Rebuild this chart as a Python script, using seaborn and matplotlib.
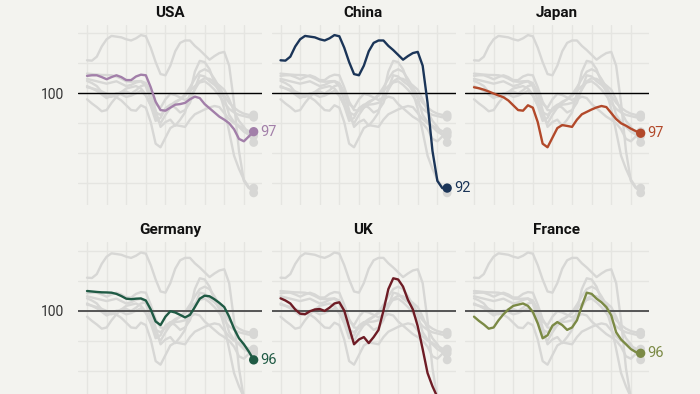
import pandas as pd
import seaborn as sns
import matplotlib.pyplot as plt

# x = semanas (índice) (índice, 100 = base)
weeks = list(range(35))

usa = [101.45, 101.5, 101.5, 101.35, 101.17, 101.35, 101.5, 101.35, 101.1, 101.1,
       101.4, 101.55, 101.5, 100.5, 99.3, 98.6, 98.55, 98.8, 99.05, 99.1,
       99.2, 99.5, 99.72, 99.6, 99.1, 98.75, 98.4, 98.05, 97.8, 97.5,
       97.0, 96.2, 96.0, 96.4, 96.8]
china = [102.75, 102.72, 103.05, 103.9, 104.5, 104.78, 104.72, 104.66, 104.5, 104.4,
         104.58, 104.85, 104.75, 103.8, 102.6, 101.6, 101.5, 102.3, 103.5, 104.2,
         104.4, 104.4, 103.95, 103.6, 103.2, 102.8, 103.1, 103.35, 103.45, 102.3,
         99.2, 95.2, 92.7, 92.1, 92.1]
japan = [100.5, 100.42, 100.3, 100.15, 99.98, 99.82, 99.67, 99.4, 99.0, 98.6,
         98.55, 99.0, 98.8, 97.6, 95.8, 95.5, 96.3, 97.1, 97.35, 97.28,
         97.2, 97.8, 98.25, 98.45, 98.65, 98.82, 98.94, 98.85, 98.35, 97.85,
         97.5, 97.3, 97.05, 96.85, 96.67]
germany = [101.64, 101.6, 101.56, 101.53, 101.52, 101.5, 101.4, 101.22, 101.0, 100.96,
           101.0, 101.02, 100.85, 100.1, 99.1, 98.8, 99.5, 99.95, 99.85, 99.65,
           99.44, 99.65, 100.3, 101.0, 101.25, 101.2, 100.95, 100.65, 100.3, 99.5,
           98.5, 97.7, 97.2, 96.6, 95.9]
uk = [101.03, 100.85, 100.6, 100.1, 99.75, 99.7, 99.95, 100.1, 100.14, 99.98,
      100.25, 100.6, 100.7, 100.0, 98.6, 97.2, 97.6, 97.8, 97.3, 97.8,
      98.4, 100.0, 101.8, 102.7, 102.6, 102.0, 100.9, 100.1, 98.7, 96.8,
      94.8, 93.7, 92.8, 92.2, 91.7]
france = [99.5, 99.15, 98.85, 98.5, 98.6, 99.2, 99.7, 100.1, 100.4, 100.5,
          100.6, 100.4, 99.9, 98.95, 97.7, 97.95, 98.75, 99.05, 98.8, 98.4,
          98.6, 99.2, 100.4, 101.5, 101.4, 101.0, 100.7, 100.3, 99.6, 98.2,
          97.6, 97.2, 96.8, 96.55, 96.45]
# países que só aparecem em cinza (painéis fora do recorte)
italy = [101.2, 101.1, 101.0, 100.9, 100.8, 100.9, 101.0, 100.8, 100.6, 100.7,
         100.9, 101.0, 100.6, 99.4, 98.0, 97.5, 98.2, 98.8, 99.2, 99.5,
         99.9, 100.5, 101.2, 101.8, 102.0, 101.8, 101.2, 100.5, 99.8, 99.2,
         98.8, 98.5, 98.3, 98.2, 98.2]
canada = [100.6, 100.4, 100.2, 99.9, 99.6, 99.8, 100.0, 99.9, 99.7, 99.8,
          100.0, 100.2, 99.8, 99.0, 98.4, 98.2, 98.6, 99.0, 99.3, 99.5,
          99.8, 100.2, 100.6, 100.9, 101.0, 100.7, 100.3, 99.8, 99.2, 98.7,
          98.4, 98.2, 98.1, 98.0, 98.0]

panels = ['USA', 'China', 'Japan', 'Germany', 'UK', 'France']
# rótulo final (o do Reino Unido fica abaixo do recorte)
end_labels = ['97', '92', '97', '96', None, '96']
colors = ['#a27fa9', '#1b3558', '#b2492a', '#1f5a44', '#6e1c25', '#7b8a45']

series = {'USA': usa, 'China': china, 'Japan': japan, 'Germany': germany,
          'UK': uk, 'France': france, 'Italy': italy, 'Canada': canada}

df = pd.concat([pd.DataFrame({'country': k, 'week': weeks, 'value': v})
                for k, v in series.items()], ignore_index=True)

bg = '#f3f3ef'
grey = '#d7d7d5'
sns.set_style('white')
plt.rcParams['font.family'] = ['Roboto', 'DejaVu Sans']

W, H = 700, 394
fig = plt.figure(figsize=(7, 3.94), dpi=100)
fig.patch.set_facecolor(bg)

lefts = [78, 271.5, 465]
tops = [25, 242.4]
aw, ah = 184, 180
yt = [92.5, 95, 97.5, 100, 102.5, 105]

for i, name in enumerate(panels):
    row, col = divmod(i, 3)
    ax = fig.add_axes([lefts[col] / W, 1 - (tops[row] + ah) / H, aw / W, ah / H])
    ax.patch.set_visible(False)
    ax.set_zorder(10 - col)  # rótulos finais por cima do painel vizinho

    # linhas cinza dos outros países
    others = df[df['country'] != name]
    sns.lineplot(data=others, x='week', y='value', units='country', estimator=None,
                 color=grey, lw=1.7, ax=ax, legend=False, zorder=2)
    last = others[others['week'] == weeks[-1]]
    sns.scatterplot(data=last, x='week', y='value', color=grey, s=40,
                    edgecolor='none', ax=ax, legend=False, zorder=2)

    # linha de base 100
    ax.axhline(100, color='black' if row == 0 else '#555555',
               lw=1.0 if row == 0 else 1.4, zorder=3)

    # país em destaque
    mine = df[df['country'] == name]
    sns.lineplot(data=mine, x='week', y='value', color=colors[i], lw=1.7,
                 ax=ax, legend=False, zorder=4)
    end = mine[mine['week'] == weeks[-1]]
    sns.scatterplot(data=end, x='week', y='value', color=colors[i], s=45,
                    edgecolor='none', ax=ax, legend=False, zorder=5)
    if end_labels[i]:
        ax.annotate(end_labels[i], (weeks[-1], end['value'].iloc[0]),
                    xytext=(5, 0), textcoords='offset points', va='center',
                    ha='left', fontsize=10.5, color=colors[i], annotation_clip=False)

    ax.set_xlim(-1.84, 35.7)
    ax.set_ylim(90.69, 105.69)
    ax.set_xticks(range(0, 33, 4))
    ax.set_yticks(yt)
    ax.grid(True, color='#e5e5e1', lw=1.0, zorder=0)
    ax.set_axisbelow(True)
    ax.set_xticklabels([])
    if col == 0:
        ax.set_yticklabels(['100' if t == 100 else '' for t in yt],
                           fontsize=10, color='#333333')
    else:
        ax.set_yticklabels([])
    ax.tick_params(length=0, pad=10)
    ax.set_xlabel('')
    ax.set_ylabel('')
    for s in ax.spines.values():
        s.set_visible(False)
    ax.set_title(name, fontsize=11, fontweight='bold', pad=6, color='#111111')

fig.savefig('out.png', dpi=100, facecolor=bg)
